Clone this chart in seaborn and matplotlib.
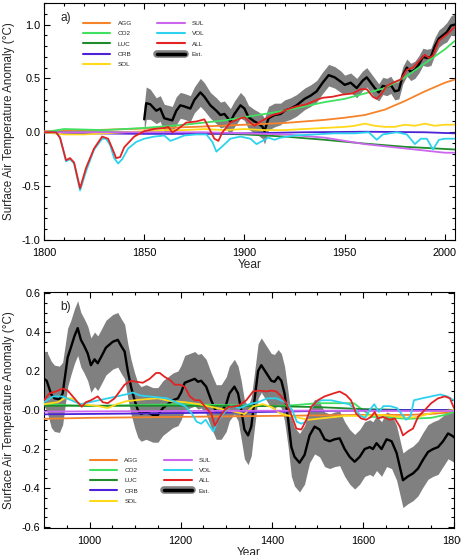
import numpy as np
import pandas as pd
import matplotlib
matplotlib.use("Agg")
import matplotlib.pyplot as plt
import seaborn as sns
from matplotlib.lines import Line2D
from matplotlib.ticker import MultipleLocator, FuncFormatter

# ---------------- data: panel a) 1800-2005 ----------------
agg_a_x = [1800, 1825, 1850, 1875, 1900, 1920, 1940, 1950, 1960, 1970, 1980, 1990, 2000, 2005]
agg_a_y = [0.01, 0.02, 0.035, 0.05, 0.07, 0.086, 0.115, 0.135, 0.16, 0.21, 0.29, 0.38, 0.46, 0.49]

co2_a_x = [1800, 1810, 1830, 1850, 1870, 1890, 1900, 1910, 1920, 1930, 1940, 1950, 1960, 1970, 1980, 1990, 2000, 2005]
co2_a_y = [0.0, 0.03, 0.02, 0.04, 0.07, 0.11, 0.14, 0.17, 0.2, 0.24, 0.28, 0.31, 0.36, 0.41, 0.51, 0.64, 0.77, 0.85]

luc_a_x = [1800, 1850, 1880, 1900, 1920, 1940, 1960, 1980, 2005]
luc_a_y = [0.0, 0.0, -0.01, -0.02, -0.04, -0.07, -0.105, -0.135, -0.16]

orb_a_x = [1800, 1820, 1850, 1880, 1900, 1930, 1960, 1990, 2005]
orb_a_y = [0.0, -0.01, -0.015, -0.015, -0.01, 0.0, 0.005, 0.0, -0.01]

sol_a_x = [1800, 1810, 1820, 1830, 1840, 1850, 1860, 1870, 1880, 1890, 1900, 1910, 1920, 1930,
           1940, 1950, 1955, 1960, 1965, 1970, 1975, 1980, 1985, 1990, 1995, 2000, 2005]
sol_a_y = [0.0, -0.02, -0.02, -0.01, 0.0, 0.01, 0.02, 0.02, 0.03, 0.02, 0.03, 0.02, 0.02, 0.03,
           0.04, 0.05, 0.06, 0.08, 0.06, 0.05, 0.05, 0.07, 0.06, 0.08, 0.06, 0.07, 0.07]

sul_a_x = [1800, 1850, 1880, 1900, 1920, 1940, 1950, 1960, 1970, 1980, 1990, 2000, 2005]
sul_a_y = [0.0, 0.0, 0.0, -0.01, -0.02, -0.05, -0.08, -0.11, -0.13, -0.15, -0.17, -0.19, -0.19]

vol_a_x = [1800, 1806, 1808, 1811, 1813, 1815, 1818, 1821, 1825, 1829, 1831, 1833, 1835, 1837, 1839,
           1842, 1846, 1850, 1855, 1860, 1863, 1866, 1870, 1876, 1881, 1884, 1886, 1889, 1893, 1898,
           1903, 1906, 1909, 1912, 1915, 1918, 1925, 1935, 1945, 1955, 1962, 1966, 1969, 1976, 1981,
           1985, 1988, 1991, 1994, 1997, 2000, 2005]
vol_a_y = [0.0, 0.0, -0.05, -0.27, -0.25, -0.29, -0.54, -0.36, -0.16, -0.06, -0.06, -0.12, -0.24, -0.29, -0.25,
           -0.15, -0.09, -0.06, -0.04, -0.03, -0.08, -0.06, -0.03, -0.02, -0.02, -0.09, -0.18, -0.13, -0.06, -0.04,
           -0.06, -0.11, -0.08, -0.05, -0.07, -0.05, -0.03, -0.02, -0.01, -0.01, 0.0, -0.07, -0.02, 0.0, -0.02,
           -0.11, -0.06, -0.06, -0.16, -0.07, -0.06, -0.06]

all_a_x = [1800, 1806, 1808, 1811, 1813, 1815, 1818, 1821, 1825, 1829, 1832, 1834.5, 1836, 1838, 1840,
           1845, 1850, 1855, 1860, 1862, 1864, 1866, 1871, 1876, 1880, 1882, 1885, 1887, 1889, 1893,
           1898, 1900, 1903, 1905, 1908, 1911, 1914, 1918, 1921, 1926, 1931, 1936, 1939, 1944, 1949,
           1954, 1958, 1961, 1964, 1966, 1968, 1971, 1974, 1978, 1981, 1984, 1987, 1990, 1992, 1994,
           1997, 2001, 2005]
all_a_y = [0.0, 0.0, -0.05, -0.26, -0.24, -0.28, -0.52, -0.33, -0.15, -0.04, -0.06, -0.17, -0.24, -0.23, -0.14,
           -0.04, 0.01, 0.03, 0.04, 0.05, 0.0, 0.02, 0.09, 0.1, 0.12, 0.05, -0.06, -0.08, 0.0, 0.09,
           0.13, 0.14, 0.09, 0.06, 0.1, 0.13, 0.16, 0.18, 0.21, 0.24, 0.26, 0.3, 0.32, 0.33, 0.35,
           0.36, 0.4, 0.4, 0.33, 0.31, 0.35, 0.43, 0.46, 0.49, 0.58, 0.6, 0.66, 0.72, 0.69, 0.71,
           0.85, 0.91, 0.98]

est_a_x = [1850, 1851, 1853, 1856, 1858, 1860, 1862, 1864, 1866, 1868,
           1870, 1873, 1875, 1878, 1880, 1883, 1886, 1888, 1890, 1893,
           1895, 1898, 1900, 1902, 1905, 1907, 1909, 1910, 1912, 1915,
           1918, 1920, 1923, 1926, 1930, 1933, 1936, 1939, 1942, 1945,
           1948, 1950, 1953, 1956, 1959, 1961, 1963, 1965, 1967, 1969,
           1971, 1973, 1975, 1977, 1979, 1981, 1983, 1985, 1987, 1989,
           1991, 1993, 1995, 1997, 1999, 2001, 2003, 2005]
est_a_y = [0.12, 0.27, 0.26, 0.2, 0.22, 0.13, 0.12, 0.11, 0.2, 0.25,
           0.24, 0.22, 0.3, 0.37, 0.33, 0.25, 0.2, 0.16, 0.17, 0.1,
           0.17, 0.25, 0.22, 0.14, 0.1, 0.08, 0.05, 0.01, 0.13, 0.16,
           0.17, 0.2, 0.22, 0.25, 0.31, 0.34, 0.38, 0.46, 0.53, 0.51,
           0.47, 0.44, 0.46, 0.41, 0.48, 0.51, 0.46, 0.41, 0.37, 0.43,
           0.42, 0.44, 0.38, 0.39, 0.53, 0.6, 0.56, 0.58, 0.63, 0.7,
           0.69, 0.7, 0.8, 0.87, 0.9, 0.93, 0.99, 1.0]
est_a_err = [0.13, 0.15, 0.14, 0.12, 0.12, 0.13, 0.13, 0.13, 0.13, 0.12,
             0.12, 0.12, 0.12, 0.13, 0.13, 0.12, 0.12, 0.12, 0.12, 0.12,
             0.12, 0.12, 0.11, 0.11, 0.11, 0.11, 0.11, 0.12, 0.11, 0.11,
             0.10, 0.10, 0.10, 0.10, 0.10, 0.10, 0.10, 0.10, 0.10, 0.10,
             0.10, 0.09, 0.09, 0.09, 0.09, 0.09, 0.09, 0.09, 0.08, 0.08,
             0.08, 0.08, 0.08, 0.08, 0.08, 0.08, 0.08, 0.08, 0.08, 0.08,
             0.08, 0.08, 0.08, 0.08, 0.08, 0.09, 0.09, 0.10]

# ---------------- data: panel b) 900-1800 ----------------
agg_b_x = [900, 1000, 1200, 1400, 1600, 1700, 1750, 1800]
agg_b_y = [-0.045, -0.04, -0.035, -0.03, -0.025, -0.025, -0.02, -0.01]

co2_b_x = [900, 1000, 1100, 1200, 1300, 1400, 1450, 1500, 1580, 1600, 1620, 1700, 1750, 1780, 1800]
co2_b_y = [0.03, 0.02, 0.025, 0.03, 0.025, 0.02, 0.025, 0.035, 0.035, 0.0, -0.035, -0.045, -0.04, -0.025, -0.01]

luc_b_x = [900, 1200, 1400, 1500, 1550, 1600, 1700, 1800]
luc_b_y = [0.022, 0.022, 0.02, 0.015, 0.01, 0.005, 0.0, 0.0]

orb_b_x = [900, 1100, 1300, 1500, 1700, 1800]
orb_b_y = [-0.022, -0.018, -0.013, -0.005, 0.0, 0.0]

sul_b_x = [900, 1200, 1500, 1700, 1800]
sul_b_y = [-0.008, -0.005, -0.003, -0.005, -0.005]

sol_b_x = [900, 930, 945, 960, 980, 1000, 1020, 1040, 1060, 1080,
           1100, 1120, 1150, 1180, 1210, 1240, 1260, 1280, 1300, 1320,
           1340, 1360, 1380, 1400, 1420, 1440, 1460, 1480, 1500, 1520,
           1560, 1600, 1640, 1660, 1700, 1720, 1760, 1800]
sol_b_y = [0.03, 0.04, 0.06, 0.06, 0.03, 0.025, 0.02, 0.01, 0.03, 0.045,
           0.05, 0.055, 0.06, 0.045, 0.04, 0.03, 0.02, 0.01, 0.0, -0.01,
           -0.02, 0.02, 0.03, 0.015, -0.02, -0.03, -0.04, -0.05, -0.045, -0.04,
           -0.03, -0.03, -0.025, -0.03, -0.04, -0.035, -0.01, 0.0]

vol_b_x = [900, 920, 940, 960, 980, 1000, 1020, 1040, 1060, 1080,
           1095, 1110, 1130, 1150, 1170, 1190, 1210, 1225, 1235, 1245,
           1255, 1263, 1272, 1280, 1290, 1300, 1310, 1330, 1350, 1370,
           1390, 1410, 1430, 1445, 1455, 1465, 1475, 1485, 1495, 1510,
           1530, 1550, 1570, 1585, 1595, 1605, 1615, 1625, 1635, 1645,
           1660, 1675, 1685, 1695, 1705, 1712, 1730, 1750, 1770, 1785, 1800]
vol_b_y = [0.04, 0.07, 0.07, 0.05, 0.03, 0.04, 0.05, 0.06, 0.07, 0.08,
           0.09, 0.075, 0.07, 0.065, 0.06, 0.04, 0.02, -0.02, -0.06, -0.07,
           -0.05, -0.08, -0.11, -0.06, -0.03, 0.0, 0.02, 0.01, 0.03, 0.04,
           0.06, 0.06, 0.04, 0.0, -0.06, -0.07, -0.06, 0.0, 0.04, 0.05,
           0.05, 0.04, 0.03, 0.0, -0.03, -0.04, 0.0, 0.03, -0.01, 0.02,
           0.02, 0.01, -0.02, -0.05, -0.03, 0.05, 0.06, 0.07, 0.08, 0.07, 0.05]

all_b_x = [900, 912, 926, 941, 952, 963, 974, 983, 992, 1003,
           1018, 1029, 1040, 1055, 1066, 1077, 1091, 1102, 1117, 1132,
           1146, 1154, 1165, 1176, 1187, 1198, 1209, 1220, 1231, 1242,
           1256, 1267, 1275, 1286, 1297, 1307, 1318, 1329, 1344, 1359,
           1373, 1388, 1399, 1410, 1421, 1432, 1443, 1454, 1465, 1476,
           1487, 1501, 1516, 1535, 1549, 1563, 1574, 1585, 1596, 1607,
           1618, 1626, 1633, 1644, 1659, 1670, 1681, 1688, 1699, 1710,
           1721, 1736, 1750, 1765, 1780, 1791, 1800]
all_b_y = [0.05, 0.085, 0.095, 0.11, 0.10, 0.07, 0.04, 0.017, 0.04, 0.05,
           0.07, 0.04, 0.035, 0.06, 0.095, 0.13, 0.15, 0.145, 0.14, 0.16,
           0.19, 0.19, 0.17, 0.155, 0.13, 0.13, 0.12, 0.07, 0.05, 0.05,
           0.01, -0.017, -0.08, -0.035, 0.0, 0.017, 0.017, 0.025, 0.05, 0.095,
           0.10, 0.095, 0.10, 0.095, 0.07, 0.035, -0.025, -0.095, -0.1, -0.05,
           0.017, 0.05, 0.07, 0.085, 0.095, 0.077, 0.05, -0.017, -0.043, -0.05,
           -0.035, -0.01, -0.043, -0.035, -0.05, -0.043, -0.085, -0.13, -0.11, -0.095,
           -0.035, 0.0, 0.035, 0.06, 0.07, 0.06, 0.01]

est_b_x = [900, 906, 916, 923, 934, 941, 952, 959, 967, 974,
           981, 988, 996, 1003, 1011, 1018, 1025, 1036, 1051, 1062,
           1069, 1077, 1084, 1091, 1099, 1106, 1113, 1124, 1139, 1150,
           1161, 1172, 1183, 1194, 1201, 1209, 1220, 1231, 1238, 1245,
           1256, 1267, 1278, 1289, 1300, 1307, 1318, 1326, 1333, 1340,
           1348, 1355, 1362, 1370, 1377, 1388, 1399, 1406, 1414, 1421,
           1428, 1436, 1443, 1450, 1461, 1472, 1483, 1494, 1505, 1516,
           1527, 1538, 1549, 1560, 1571, 1582, 1593, 1604, 1615, 1622,
           1630, 1641, 1652, 1663, 1674, 1681, 1688, 1699, 1710, 1721,
           1732, 1743, 1754, 1765, 1776, 1787, 1798, 1800]
est_b_y = [0.16, 0.15, 0.08, 0.06, 0.055, 0.085, 0.27, 0.32, 0.38, 0.42,
           0.36, 0.33, 0.29, 0.23, 0.26, 0.24, 0.27, 0.32, 0.35, 0.36,
           0.33, 0.30, 0.2, 0.12, 0.05, 0.0, -0.02, -0.01, -0.025, -0.025,
           0.01, 0.03, 0.05, 0.06, 0.09, 0.14, 0.15, 0.16, 0.145, 0.15,
           0.12, 0.05, -0.01, -0.01, 0.03, 0.085, 0.12, 0.085, 0.0, -0.1,
           -0.13, -0.085, 0.05, 0.2, 0.23, 0.19, 0.15, 0.145, 0.17, 0.15,
           0.085, -0.05, -0.19, -0.24, -0.27, -0.23, -0.13, -0.085, -0.1, -0.15,
           -0.16, -0.15, -0.145, -0.2, -0.24, -0.265, -0.24, -0.2, -0.19, -0.2,
           -0.17, -0.2, -0.15, -0.16, -0.22, -0.29, -0.36, -0.34, -0.325, -0.3,
           -0.255, -0.215, -0.2, -0.19, -0.16, -0.12, -0.135, -0.14]
est_b_err = [0.14, 0.15, 0.17, 0.17, 0.17, 0.16, 0.15, 0.14, 0.14, 0.14,
             0.14, 0.14, 0.14, 0.14, 0.14, 0.14, 0.14, 0.14, 0.14, 0.14,
             0.14, 0.14, 0.14, 0.14, 0.14, 0.14, 0.14, 0.14, 0.14, 0.14,
             0.14, 0.14, 0.14, 0.14, 0.14, 0.14, 0.14, 0.14, 0.14, 0.14,
             0.14, 0.14, 0.14, 0.14, 0.14, 0.14, 0.14, 0.14, 0.15, 0.15,
             0.15, 0.15, 0.14, 0.14, 0.14, 0.14, 0.14, 0.14, 0.14, 0.14,
             0.14, 0.14, 0.15, 0.15, 0.15, 0.15, 0.14, 0.14, 0.14, 0.14,
             0.14, 0.14, 0.14, 0.14, 0.14, 0.14, 0.14, 0.14, 0.14, 0.14,
             0.14, 0.14, 0.14, 0.14, 0.14, 0.14, 0.14, 0.14, 0.14, 0.14,
             0.14, 0.14, 0.14, 0.14, 0.13, 0.13, 0.13, 0.13]

series_names = ["AGG", "CO2", "LUC", "ORB", "SOL", "SUL", "VOL", "ALL"]
colors = {"AGG": "#F5832A", "CO2": "#40E060", "LUC": "#1E8C2A", "ORB": "#4B22D8",
          "SOL": "#FFD91A", "SUL": "#CC66EE", "VOL": "#2DD3EE", "ALL": "#E32222"}
band_color = "#808080"

panel_a = {"AGG": (agg_a_x, agg_a_y), "CO2": (co2_a_x, co2_a_y), "LUC": (luc_a_x, luc_a_y),
           "ORB": (orb_a_x, orb_a_y), "SOL": (sol_a_x, sol_a_y), "SUL": (sul_a_x, sul_a_y),
           "VOL": (vol_a_x, vol_a_y), "ALL": (all_a_x, all_a_y)}
panel_b = {"AGG": (agg_b_x, agg_b_y), "CO2": (co2_b_x, co2_b_y), "LUC": (luc_b_x, luc_b_y),
           "ORB": (orb_b_x, orb_b_y), "SOL": (sol_b_x, sol_b_y), "SUL": (sul_b_x, sul_b_y),
           "VOL": (vol_b_x, vol_b_y), "ALL": (all_b_x, all_b_y)}

# ---------------- style ----------------
sns.set_theme(style="ticks")
plt.rcParams["font.family"] = ["Liberation Sans", "DejaVu Sans"]
plt.rcParams["axes.unicode_minus"] = False
plt.rcParams["axes.linewidth"] = 0.8
plt.rcParams["axes.edgecolor"] = "black"

fig = plt.figure(figsize=(4.61, 5.55), dpi=100)
ax1 = fig.add_axes([0.0954, 0.5676, 0.8915, 0.4270])
ax2 = fig.add_axes([0.0954, 0.0486, 0.8894, 0.4252])


def draw_panel(ax, series, ex, ey, ee):
    ex = np.asarray(ex, float)
    ey = np.asarray(ey, float)
    ee = np.asarray(ee, float)
    ax.fill_between(ex, ey - ee, ey + ee, color=band_color, lw=0, zorder=1)
    sns.lineplot(x=ex, y=ey, color="black", lw=1.7, ax=ax, zorder=2)
    df = pd.concat([pd.DataFrame({"year": x, "value": y, "series": n})
                    for n, (x, y) in series.items()], ignore_index=True)
    sns.lineplot(data=df, x="year", y="value", hue="series", hue_order=series_names,
                 palette=colors, estimator=None, sort=True, lw=1.3, legend=False,
                 ax=ax, zorder=3)


def style_axes(ax):
    ax.tick_params(which="both", direction="in", top=True, right=True,
                   colors="black", width=0.8, labelsize=7.8)
    ax.tick_params(which="major", length=4.5)
    ax.tick_params(which="minor", length=2.3)
    ax.tick_params(axis="x", pad=5.5)
    ax.tick_params(axis="y", pad=2.5)
    for s in ax.spines.values():
        s.set_visible(True)
        s.set_color("black")
        s.set_linewidth(0.8)
    ax.set_xlabel("Year", fontsize=8.6, labelpad=1)
    ax.set_ylabel("Surface Air Temperature Anomaly (°C)", fontsize=8.4, labelpad=5)


def add_legend(ax, anchor):
    handles = [Line2D([], [], color=colors[n], lw=1.5) for n in series_names]
    est_h = (Line2D([], [], color=band_color, lw=5.5), Line2D([], [], color="black", lw=2.5))
    handles.append(est_h)
    labels = series_names + ["Est."]
    ax.legend(handles, labels, loc="upper left", bbox_to_anchor=anchor, ncol=2,
              frameon=False, fontsize=4.6, handlelength=4.3, handletextpad=1.1,
              columnspacing=4.0, labelspacing=0.75, borderpad=0, borderaxespad=0)


draw_panel(ax1, panel_a, est_a_x, est_a_y, est_a_err)
style_axes(ax1)
ax1.set_xlim(1800, 2005)
ax1.set_ylim(-1.0, 1.2)
ax1.xaxis.set_major_locator(MultipleLocator(50))
ax1.xaxis.set_minor_locator(MultipleLocator(10))
ax1.yaxis.set_major_locator(MultipleLocator(0.5))
ax1.yaxis.set_minor_locator(MultipleLocator(0.1))
ax1.yaxis.set_major_formatter(FuncFormatter(lambda v, p: f"{v:.1f}" if abs(v) > 1e-9 else "0.0"))
ax1.text(0.039, 0.937, "a)", transform=ax1.transAxes, fontsize=8.6, va="center", ha="left")
add_legend(ax1, (0.095, 0.926))

draw_panel(ax2, panel_b, est_b_x, est_b_y, est_b_err)
style_axes(ax2)
ax2.set_xlim(900, 1800)
ax2.set_ylim(-0.605, 0.605)
ax2.xaxis.set_major_locator(MultipleLocator(200))
ax2.xaxis.set_minor_locator(MultipleLocator(50))
ax2.yaxis.set_major_locator(MultipleLocator(0.2))
ax2.yaxis.set_minor_locator(MultipleLocator(0.05))
ax2.yaxis.set_major_formatter(FuncFormatter(lambda v, p: f"{v:.1f}" if abs(v) > 1e-9 else "-0.0"))
ax2.text(0.039, 0.936, "b)", transform=ax2.transAxes, fontsize=8.6, va="center", ha="left")
add_legend(ax2, (0.112, 0.299))

fig.savefig("out.png", dpi=100)
